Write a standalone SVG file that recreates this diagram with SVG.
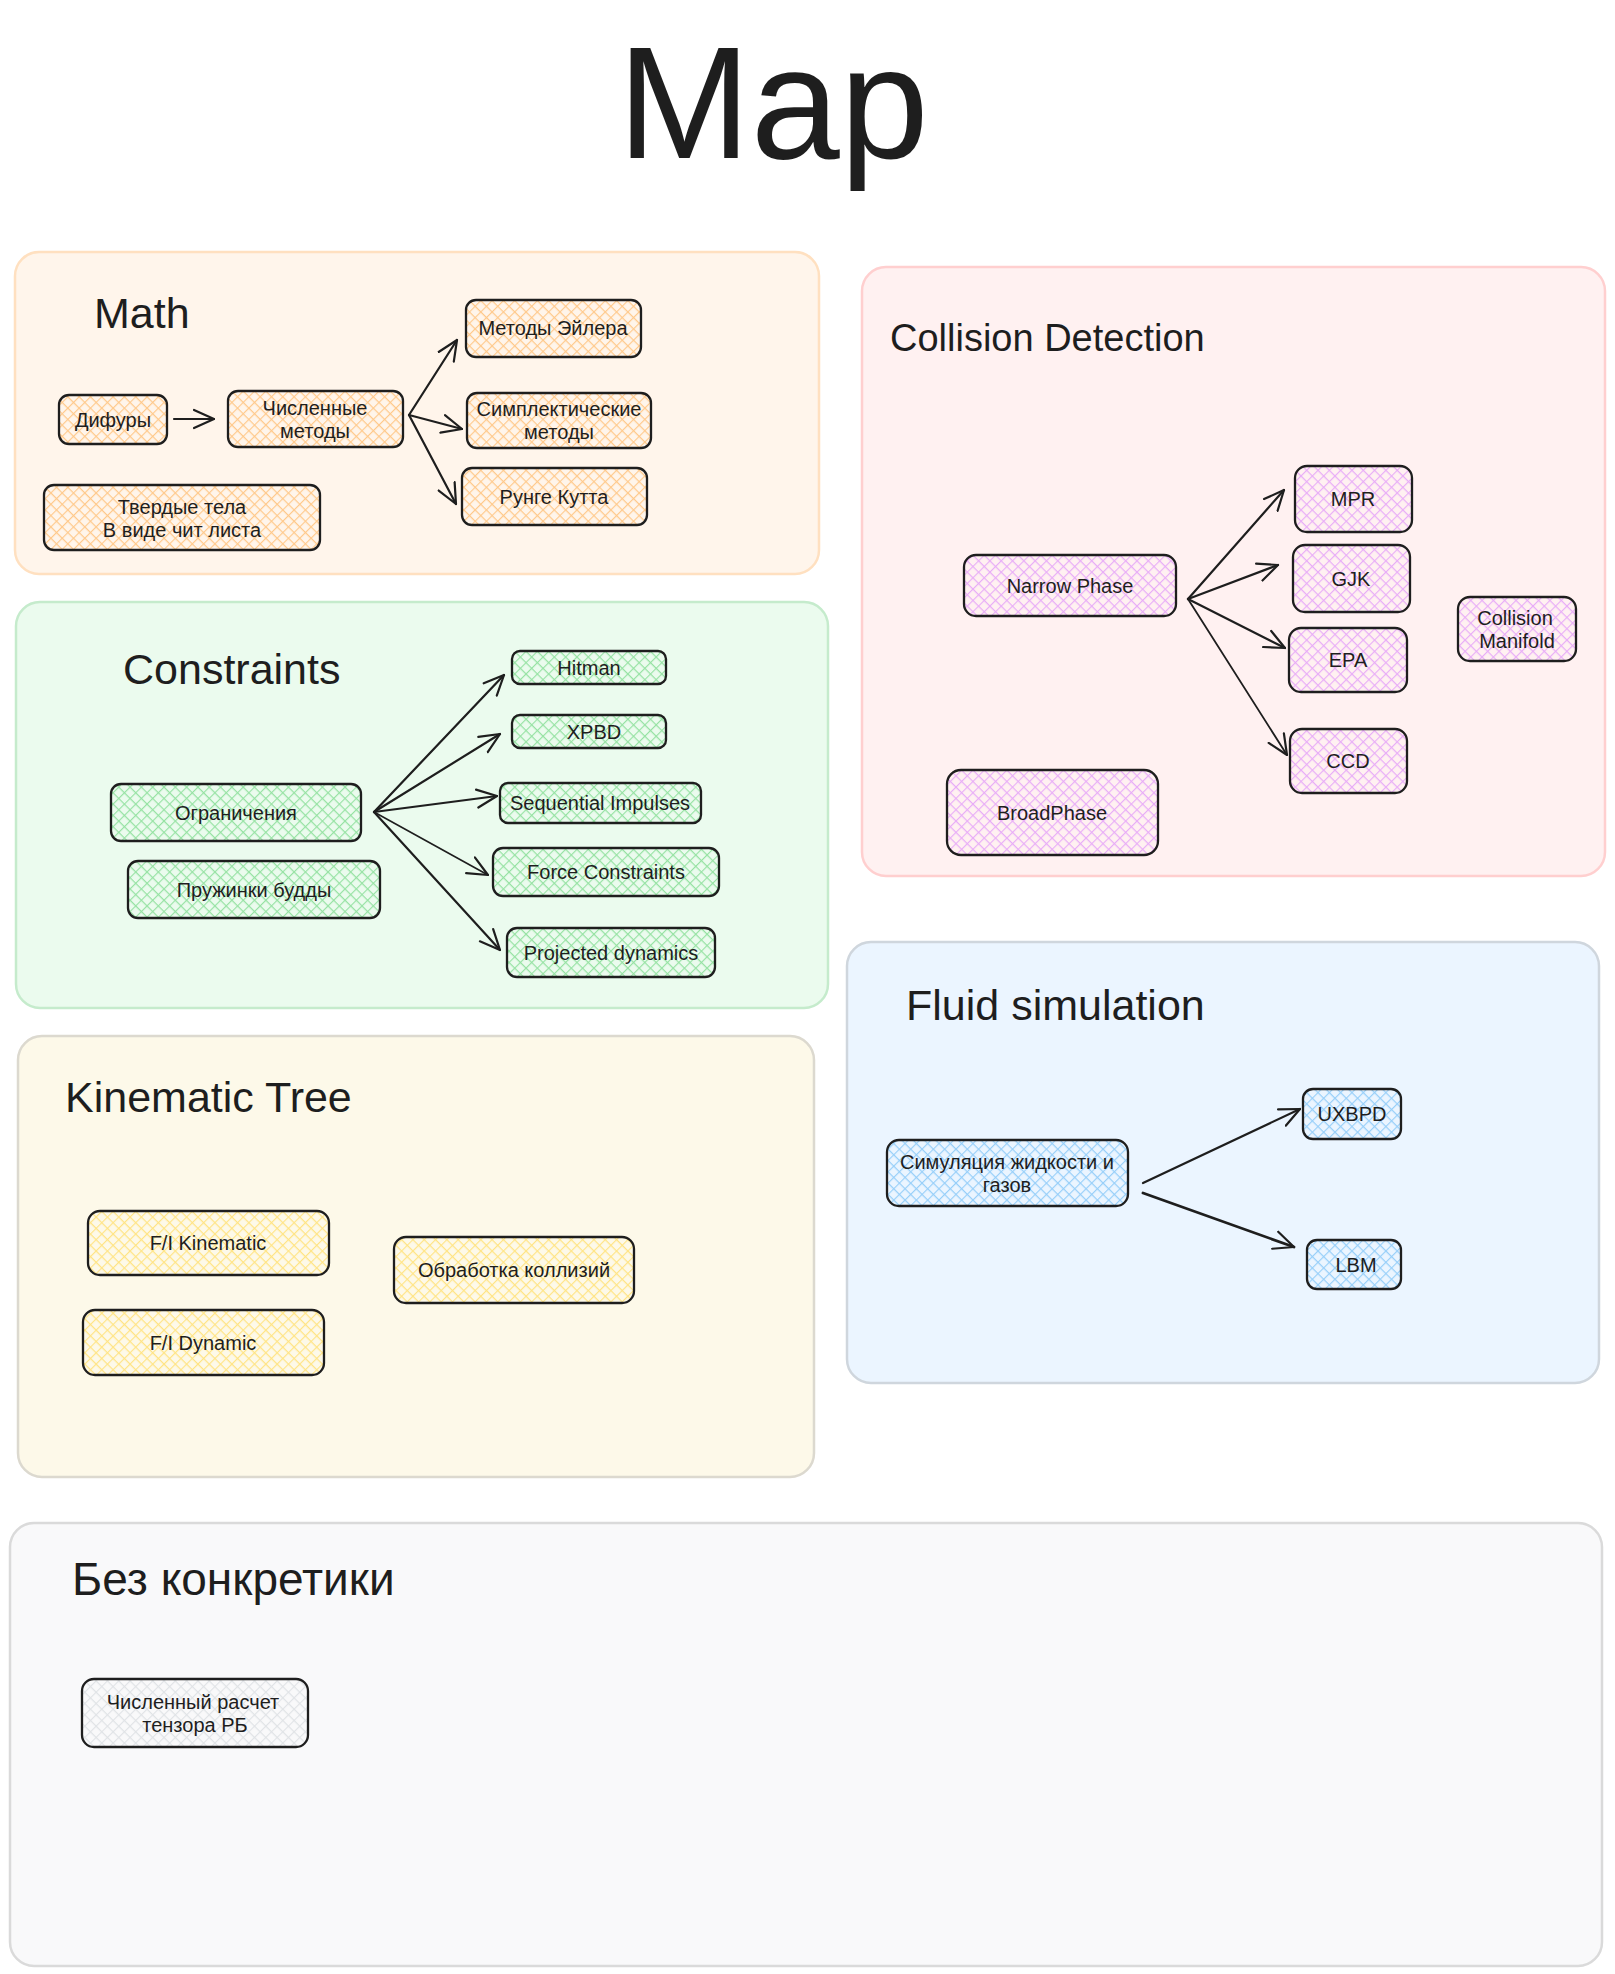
<svg xmlns="http://www.w3.org/2000/svg" width="1615" height="1974" viewBox="0 0 1615 1974">
<style>
  text { font-family: "Liberation Sans", Arial, sans-serif; fill: #1e1e1e; }
  .title { font-size: 160px; text-anchor: middle; }
  .gt { font-size: 42px; }
  .nt { font-size: 20px; text-anchor: middle; }
  .grp { stroke-width: 2.5; }
  .node { stroke: #1e1e1e; stroke-width: 2.3; }
  .edge { fill: none; stroke: #1e1e1e; stroke-width: 2.2; stroke-linecap: round; }
</style>
<defs>
  <marker id="arr" markerUnits="userSpaceOnUse" viewBox="0 0 22 22" refX="21" refY="11" markerWidth="22" markerHeight="22" orient="auto">
    <path d="M1,2 L21,11 L1,20" fill="none" stroke="#1e1e1e" stroke-width="2.2" stroke-linecap="round" stroke-linejoin="round"/>
  </marker>
  <pattern id="hO" width="8" height="8" patternUnits="userSpaceOnUse" patternTransform="rotate(45)"><path d="M0 0.5H8M0.5 0V8" stroke="#ffc98b" stroke-width="1.3"/></pattern>
  <pattern id="hG" width="8" height="8" patternUnits="userSpaceOnUse" patternTransform="rotate(45)"><path d="M0 0.5H8M0.5 0V8" stroke="#96e2a3" stroke-width="1.3"/></pattern>
  <pattern id="hP" width="8" height="8" patternUnits="userSpaceOnUse" patternTransform="rotate(45)"><path d="M0 0.5H8M0.5 0V8" stroke="#e8adf7" stroke-width="1.3"/></pattern>
  <pattern id="hY" width="8" height="8" patternUnits="userSpaceOnUse" patternTransform="rotate(45)"><path d="M0 0.5H8M0.5 0V8" stroke="#ffe484" stroke-width="1.3"/></pattern>
  <pattern id="hB" width="8" height="8" patternUnits="userSpaceOnUse" patternTransform="rotate(45)"><path d="M0 0.5H8M0.5 0V8" stroke="#97cff9" stroke-width="1.3"/></pattern>
  <pattern id="hW" width="8" height="8" patternUnits="userSpaceOnUse" patternTransform="rotate(45)"><path d="M0 0.5H8M0.5 0V8" stroke="#e0e3e6" stroke-width="1.3"/></pattern>
</defs>
<rect width="1615" height="1974" fill="#ffffff"/>

<text class="title" x="773" y="158">Map</text>

<!-- Groups -->
<g id="group-math">
  <rect class="grp" x="15" y="252" width="804" height="322" rx="24" fill="#fff5eb" stroke="#ffe0c0"/>
  <text class="gt" x="94" y="328" style="font-size:43px">Math</text>
</g>
<g id="group-constraints">
  <rect class="grp" x="16" y="602" width="812" height="406" rx="24" fill="#ebfbee" stroke="#c5ebcc"/>
  <text class="gt" x="123" y="684" style="font-size:43px">Constraints</text>
</g>
<g id="group-kinematic">
  <rect class="grp" x="18" y="1036" width="796" height="441" rx="24" fill="#fdf9e9" stroke="#dcd9cf"/>
  <text class="gt" x="65" y="1112" style="font-size:43px">Kinematic Tree</text>
</g>
<g id="group-collision">
  <rect class="grp" x="862" y="267" width="743" height="609" rx="24" fill="#fff1f1" stroke="#ffcfcf"/>
  <text class="gt" x="890" y="351" style="font-size:38px">Collision Detection</text>
</g>
<g id="group-fluid">
  <rect class="grp" x="847" y="942" width="752" height="441" rx="24" fill="#ebf5ff" stroke="#cfd6dd"/>
  <text class="gt" x="906" y="1020" style="font-size:43px">Fluid simulation</text>
</g>
<g id="group-bez">
  <rect class="grp" x="10" y="1523" width="1592" height="443" rx="24" fill="#f9f9fa" stroke="#dadada"/>
  <text class="gt" x="72" y="1595" style="font-size:46px">Без конкретики</text>
</g>

<!-- Connectors -->
<g id="connectors">
  <path class="edge" d="M174,419 L214,419" marker-end="url(#arr)"/>
  <path class="edge" d="M409,415 L457,340" marker-end="url(#arr)"/>
  <path class="edge" d="M409,415 L462,429" marker-end="url(#arr)"/>
  <path class="edge" d="M409,415 L456,504" marker-end="url(#arr)"/>

  <path class="edge" d="M374,812 L504,675" marker-end="url(#arr)"/>
  <path class="edge" d="M374,812 L500,734" marker-end="url(#arr)"/>
  <path class="edge" d="M374,812 L497,796" marker-end="url(#arr)"/>
  <path class="edge" d="M374,812 L488,875" marker-end="url(#arr)" style="stroke-width:1.6"/>
  <path class="edge" d="M374,812 L500,950" marker-end="url(#arr)"/>

  <path class="edge" d="M1188,599 L1284,490" marker-end="url(#arr)"/>
  <path class="edge" d="M1188,599 L1278,565" marker-end="url(#arr)"/>
  <path class="edge" d="M1188,599 L1285,648" marker-end="url(#arr)"/>
  <path class="edge" d="M1188,599 L1287,755" marker-end="url(#arr)" style="stroke-width:1.8"/>

  <path class="edge" d="M1143,1183 L1300,1109" marker-end="url(#arr)"/>
  <path class="edge" d="M1143,1193 L1294,1247" marker-end="url(#arr)" style="stroke-width:2.8"/>
</g>

<!-- Math nodes -->
<g id="node-difury">
  <rect class="node" x="59" y="395" width="108" height="49" rx="10" fill="url(#hO)"/>
  <text class="nt" x="113" y="427">Дифуры</text>
</g>
<g id="node-chislennye">
  <rect class="node" x="228" y="391" width="175" height="56" rx="10" fill="url(#hO)"/>
  <text class="nt" x="315" y="415">Численные</text>
  <text class="nt" x="315" y="438">методы</text>
</g>
<g id="node-euler">
  <rect class="node" x="466" y="300" width="175" height="57" rx="10" fill="url(#hO)"/>
  <text class="nt" x="553" y="335">Методы Эйлера</text>
</g>
<g id="node-sympl">
  <rect class="node" x="467" y="393" width="184" height="55" rx="10" fill="url(#hO)"/>
  <text class="nt" x="559" y="416">Симплектические</text>
  <text class="nt" x="559" y="439">методы</text>
</g>
<g id="node-runge">
  <rect class="node" x="462" y="468" width="185" height="57" rx="10" fill="url(#hO)"/>
  <text class="nt" x="554" y="504">Рунге Кутта</text>
</g>
<g id="node-tverd">
  <rect class="node" x="44" y="485" width="276" height="65" rx="10" fill="url(#hO)"/>
  <text class="nt" x="182" y="514">Твердые тела</text>
  <text class="nt" x="182" y="537">В виде чит листа</text>
</g>

<!-- Constraints nodes -->
<g id="node-ogr">
  <rect class="node" x="111" y="784" width="250" height="57" rx="10" fill="url(#hG)"/>
  <text class="nt" x="236" y="820">Ограничения</text>
</g>
<g id="node-pruzh">
  <rect class="node" x="128" y="861" width="252" height="57" rx="10" fill="url(#hG)"/>
  <text class="nt" x="254" y="897">Пружинки будды</text>
</g>
<g id="node-hitman">
  <rect class="node" x="512" y="651" width="154" height="33" rx="8" fill="url(#hG)"/>
  <text class="nt" x="589" y="675">Hitman</text>
</g>
<g id="node-xpbd">
  <rect class="node" x="512" y="715" width="154" height="33" rx="8" fill="url(#hG)"/>
  <text class="nt" x="594" y="739">XPBD</text>
</g>
<g id="node-si">
  <rect class="node" x="500" y="783" width="201" height="40" rx="8" fill="url(#hG)"/>
  <text class="nt" x="600" y="810">Sequential Impulses</text>
</g>
<g id="node-fc">
  <rect class="node" x="493" y="848" width="226" height="48" rx="10" fill="url(#hG)"/>
  <text class="nt" x="606" y="879">Force Constraints</text>
</g>
<g id="node-pd">
  <rect class="node" x="507" y="928" width="208" height="49" rx="10" fill="url(#hG)"/>
  <text class="nt" x="611" y="960">Projected dynamics</text>
</g>

<!-- Kinematic nodes -->
<g id="node-fik">
  <rect class="node" x="88" y="1211" width="241" height="64" rx="12" fill="url(#hY)"/>
  <text class="nt" x="208" y="1250">F/I Kinematic</text>
</g>
<g id="node-fid">
  <rect class="node" x="83" y="1310" width="241" height="65" rx="12" fill="url(#hY)"/>
  <text class="nt" x="203" y="1350">F/I Dynamic</text>
</g>
<g id="node-obr">
  <rect class="node" x="394" y="1237" width="240" height="66" rx="12" fill="url(#hY)"/>
  <text class="nt" x="514" y="1277">Обработка коллизий</text>
</g>

<!-- Collision nodes -->
<g id="node-narrow">
  <rect class="node" x="964" y="555" width="212" height="61" rx="12" fill="url(#hP)"/>
  <text class="nt" x="1070" y="593">Narrow Phase</text>
</g>
<g id="node-mpr">
  <rect class="node" x="1295" y="466" width="117" height="66" rx="12" fill="url(#hP)"/>
  <text class="nt" x="1353" y="506">MPR</text>
</g>
<g id="node-gjk">
  <rect class="node" x="1293" y="545" width="117" height="67" rx="12" fill="url(#hP)"/>
  <text class="nt" x="1351" y="586">GJK</text>
</g>
<g id="node-epa">
  <rect class="node" x="1289" y="628" width="118" height="64" rx="12" fill="url(#hP)"/>
  <text class="nt" x="1348" y="667">EPA</text>
</g>
<g id="node-ccd">
  <rect class="node" x="1290" y="729" width="117" height="64" rx="12" fill="url(#hP)"/>
  <text class="nt" x="1348" y="768">CCD</text>
</g>
<g id="node-manifold">
  <rect class="node" x="1458" y="597" width="118" height="64" rx="12" fill="url(#hP)"/>
  <text class="nt" x="1515" y="625">Collision</text>
  <text class="nt" x="1517" y="648">Manifold</text>
</g>
<g id="node-broad">
  <rect class="node" x="947" y="770" width="211" height="85" rx="14" fill="url(#hP)"/>
  <text class="nt" x="1052" y="820">BroadPhase</text>
</g>

<!-- Fluid nodes -->
<g id="node-sim">
  <rect class="node" x="887" y="1140" width="241" height="66" rx="12" fill="url(#hB)"/>
  <text class="nt" x="1007" y="1169">Симуляция жидкости и</text>
  <text class="nt" x="1007" y="1192">газов</text>
</g>
<g id="node-uxbpd">
  <rect class="node" x="1303" y="1089" width="98" height="50" rx="10" fill="url(#hB)"/>
  <text class="nt" x="1352" y="1121">UXBPD</text>
</g>
<g id="node-lbm">
  <rect class="node" x="1307" y="1240" width="94" height="49" rx="10" fill="url(#hB)"/>
  <text class="nt" x="1356" y="1272">LBM</text>
</g>

<!-- Bez nodes -->
<g id="node-tensor">
  <rect class="node" x="82" y="1679" width="226" height="68" rx="12" fill="url(#hW)"/>
  <text class="nt" x="193" y="1709">Численный расчет</text>
  <text class="nt" x="195" y="1732">тензора РБ</text>
</g>
</svg>
